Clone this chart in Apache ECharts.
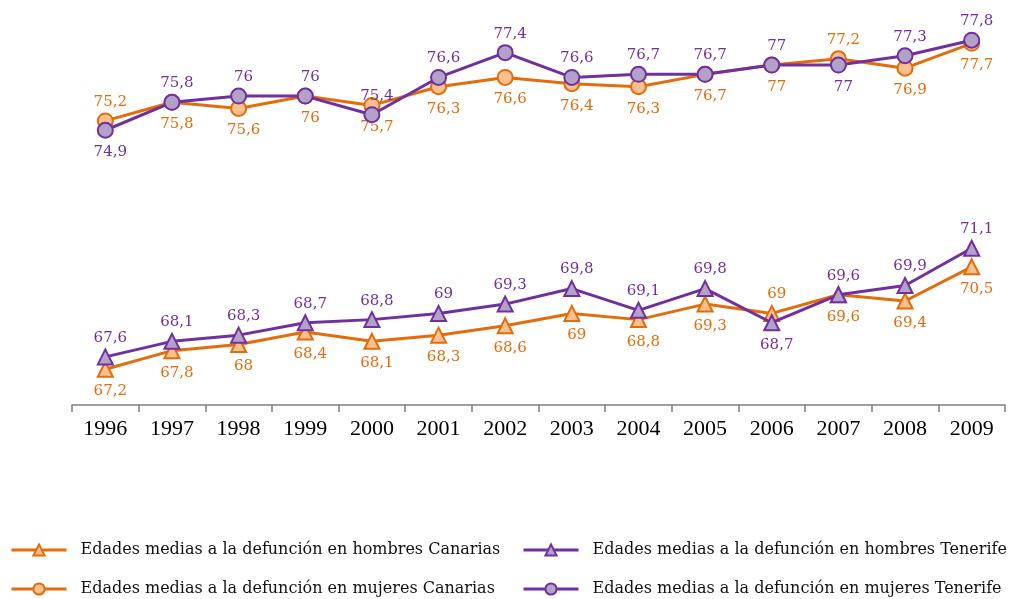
<!DOCTYPE html>
<html><head><meta charset="utf-8">
<script src="https://cdn.jsdelivr.net/npm/echarts@6/dist/echarts.min.js"></script>
<style>html,body{margin:0;padding:0;background:#fff}#c{width:1013px;height:599px}</style>
</head><body><div id="c"></div>
<script>
const years = ['1996','1997','1998','1999','2000','2001','2002','2003','2004','2005','2006','2007','2008','2009'];
const hombresCanarias = [67.2,67.8,68,68.4,68.1,68.3,68.6,69,68.8,69.3,69,69.6,69.4,70.5];
const hombresTenerife = [67.6,68.1,68.3,68.7,68.8,69,69.3,69.8,69.1,69.8,68.7,69.6,69.9,71.1];
const mujeresCanarias = [75.2,75.8,75.6,76,75.7,76.3,76.6,76.4,76.3,76.7,77,77.2,76.9,77.7];
const mujeresTenerife = [74.9,75.8,76,76,75.4,76.6,77.4,76.6,76.7,76.7,77,77,77.3,77.8];
const names = [
  'Edades medias a la defunción en hombres Canarias',
  'Edades medias a la defunción en hombres Tenerife',
  'Edades medias a la defunción en mujeres Canarias',
  'Edades medias a la defunción en mujeres Tenerife'
];
// years whose label flips from the series' default side
const flipHC = ['2006'];
const flipHT = ['2006'];
const flipMC = ['1996','2007'];
const flipMT = ['1996','2007'];

const ORANGE = '#E46C0A', ORANGE_FILL = '#FAC090';
const PURPLE = '#7030A0', PURPLE_FILL = '#B3A2C7';
const LABEL_FONT = 'DejaVu Serif';
const AXIS_FONT = 'Liberation Serif';

function fmt(v){ return String(v).replace('.', ','); }
function build(vals, def, flips){
  const alt = def === 'top' ? 'bottom' : 'top';
  return vals.map((v,i)=>{
    const pos = flips.includes(years[i]) ? alt : def;
    return {value:v, label:{position: pos, distance: pos==='top'?3:6}};
  });
}
function series(name, vals, color, fill, symbol, def, flips){
  return {
    name, type:'line', data: build(vals, def, flips),
    symbol, symbolSize: 15,
    lineStyle:{color, width:3},
    itemStyle:{color:fill, borderColor:color, borderWidth:2},
    label:{show:true, formatter:p=>fmt(p.value), color, fontFamily:LABEL_FONT, fontSize:15, offset:[5,0]},
    emphasis:{disabled:true}, animation:false, z: color===PURPLE?3:2
  };
}
function legend(name, left, top){
  return {data:[name], left, top, padding:0, itemWidth:55, itemHeight:14,
    lineStyle:{width:3},
    textStyle:{fontFamily:LABEL_FONT, fontSize:16, color:'#111', padding:[0,0,0,9]}};
}
const chart = echarts.init(document.getElementById('c'));
chart.setOption({
  animation:false,
  grid:{left:72, right:8, top:34, bottom:194},
  xAxis:{type:'category', data:years, boundaryGap:true,
    axisLine:{lineStyle:{color:'#808080', width:1.5}},
    axisTick:{show:true, length:7, lineStyle:{color:'#808080', width:1.5}},
    axisLabel:{color:'#000', fontFamily:AXIS_FONT, fontSize:22, margin:13}},
  yAxis:{type:'value', min:66.05, max:78, show:false, splitLine:{show:false}},
  legend:[
    legend(names[0], 10, 542),
    legend(names[2], 10, 581),
    legend(names[1], 522, 542),
    legend(names[3], 522, 581)
  ],
  series:[
    series(names[0], hombresCanarias, ORANGE, ORANGE_FILL, 'triangle', 'bottom', flipHC),
    series(names[1], hombresTenerife, PURPLE, PURPLE_FILL, 'triangle', 'top', flipHT),
    series(names[2], mujeresCanarias, ORANGE, ORANGE_FILL, 'circle', 'bottom', flipMC),
    series(names[3], mujeresTenerife, PURPLE, PURPLE_FILL, 'circle', 'top', flipMT)
  ]
});
</script></body></html>
